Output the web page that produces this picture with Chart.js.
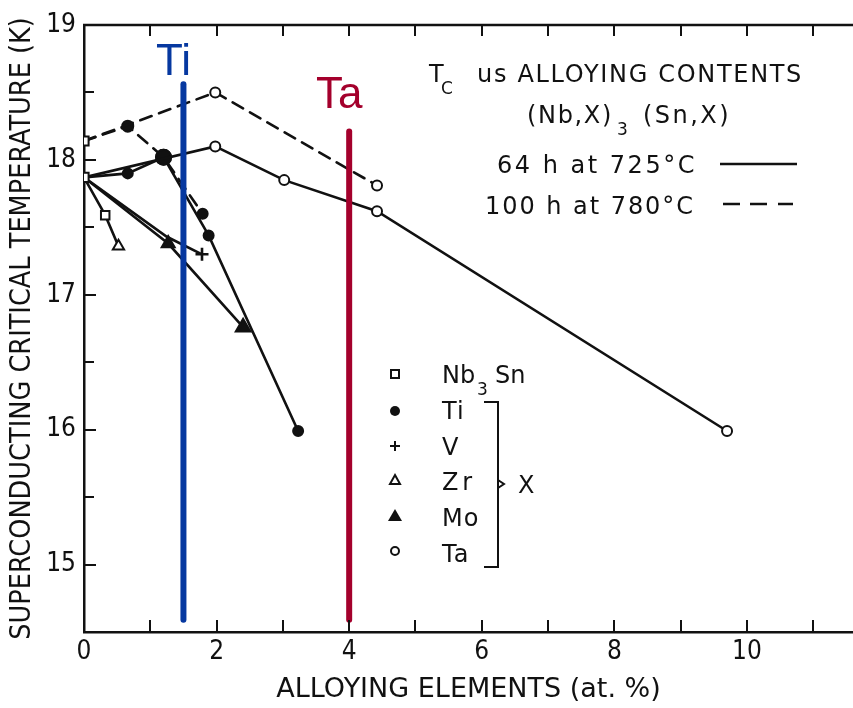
<!DOCTYPE html>
<html><head><meta charset="utf-8">
<script src="https://cdn.jsdelivr.net/npm/chart.js@4.4.1/dist/chart.umd.min.js"></script>
<style>html,body{margin:0;padding:0;background:#fff}#wrap{width:853px;height:708px}</style>
</head><body><div id="wrap"><canvas id="c" width="853" height="708"></canvas></div>
<script>
// ---- data ----
const xTicks = [0,1,2,3,4,5,6,7,8,9,10,11];
const xTickLabels = ['0','','2','','4','','6','','8','','10',''];
const yTicks = [15,16,17,18,19];
const yTickLabels = ['15','16','17','18','19'];
const yMinorTicks = [15.5,16.5,17.5,18.5];

const nb3snX = [0, 0];            const nb3snY = [17.87, 18.14];
const taSolidX = [0, 1.98, 3.02, 4.42, 9.7];  const taSolidY = [17.87, 18.10, 17.85, 17.62, 15.99];
const taDashX  = [0, 1.98, 4.42];             const taDashY  = [18.14, 18.50, 17.81];
const tiSolidX = [0, 0.66, 1.2, 1.88, 3.23];  const tiSolidY = [17.87, 17.90, 18.02, 17.44, 15.99];
const tiDashX  = [0, 0.66, 1.2, 1.79];        const tiDashY  = [18.14, 18.25, 18.02, 17.60];
const vX  = [0, 1.25, 1.78];   const vY  = [17.87, 17.43, 17.30];
const zrX = [0, 0.32, 0.52];   const zrY = [17.87, 17.59, 17.36];
const moX = [0, 1.27, 2.40];   const moY = [17.87, 17.38, 16.76];

const tiBarX = [1.5, 1.5];  const tiBarY = [14.59, 18.56];
const taBarX = [4, 4];      const taBarY = [14.59, 18.21];
const barLabels = ['Ti', 'Ta'];
const legendNames = ['Nb', 'Ti', 'V', 'Zr', 'Mo', 'Ta'];

// ---- build ----
const BLACK = '#111111', BLUE = '#0638a0', RED = '#a4002c';
const pts = (xs, ys) => xs.map((x, i) => ({x, y: ys[i]}));
const noFirst = r => (c => c.dataIndex === 0 ? 0 : (Array.isArray(r) ? r[c.dataIndex] : r));
const base = {showLine: true, borderColor: BLACK, borderWidth: 2.6, pointBorderColor: BLACK,
  pointBorderWidth: 2, fill: false, tension: 0};

const datasets = [
  Object.assign({}, base, {label:'Ti mark', data: pts(tiBarX, tiBarY), borderColor: BLUE, borderWidth: 6, pointRadius: 0}),
  Object.assign({}, base, {label:'Ta mark', data: pts(taBarX, taBarY), borderColor: RED, borderWidth: 6, pointRadius: 0}),
  Object.assign({}, base, {label:'Nb3Sn', data: pts(nb3snX, nb3snY), showLine: false, pointStyle:'rect', pointRadius: 6.5, pointBackgroundColor:'#fff'}),
  Object.assign({}, base, {label:'Ta 725', data: pts(taSolidX, taSolidY), pointStyle:'circle', pointRadius: noFirst(5), pointBackgroundColor:'#fff'}),
  Object.assign({}, base, {label:'Ta 780', data: pts(taDashX, taDashY), borderDash:[12,8], pointStyle:'circle', pointRadius: noFirst(5), pointBackgroundColor:'#fff'}),
  Object.assign({}, base, {label:'Ti 725', data: pts(tiSolidX, tiSolidY), pointStyle:'circle', pointRadius: noFirst([0,5,7.5,5,5]), pointBackgroundColor: BLACK}),
  Object.assign({}, base, {label:'Ti 780', data: pts(tiDashX, tiDashY), borderDash:[12,8], pointStyle:'circle', pointRadius: noFirst([0,5.5,7.5,5]), pointBackgroundColor: BLACK}),
  Object.assign({}, base, {label:'V', data: pts(vX, vY), pointStyle:'cross', pointRadius: noFirst([0,0,6.5]), pointBorderWidth: 2.6}),
  Object.assign({}, base, {label:'Zr', data: pts(zrX, zrY), pointStyle:['rect','rect','triangle'], pointRadius: noFirst([0,6,6.5]), pointBackgroundColor:'#fff'}),
  Object.assign({}, base, {label:'Mo', data: pts(moX, moY), pointStyle:'triangle', pointRadius: noFirst([0,7.5,8.5]), pointBackgroundColor: BLACK}),
];

function fitText(ctx, text, x, yb, w) {
  ctx.letterSpacing = '0px';
  const bw = ctx.measureText(text).width;
  const n = text.length;
  const ls = n > 1 ? (w - bw) / n : 0;
  ctx.letterSpacing = ls.toFixed(2) + 'px';
  ctx.textAlign = 'left';
  ctx.fillText(text, x, yb);
  ctx.letterSpacing = '0px';
}

const deco = {
  id: 'deco',
  afterDraw(chart) {
    const {ctx, chartArea: a} = chart;
    const x = chart.scales.x, y = chart.scales.y;
    ctx.save();
    ctx.strokeStyle = BLACK; ctx.lineWidth = 2.5;
    ctx.beginPath(); ctx.moveTo(a.left - 1, a.top); ctx.lineTo(a.right, a.top); ctx.stroke();
    ctx.lineWidth = 2;
    ctx.beginPath();
    xTicks.forEach(v => {
      if (v === 0) return;
      const px = Math.round(x.getPixelForValue(v));
      ctx.moveTo(px, a.bottom); ctx.lineTo(px, a.bottom - 12);
      ctx.moveTo(px, a.top); ctx.lineTo(px, a.top + 11);
    });
    yTicks.concat(yMinorTicks).forEach(v => {
      if (v <= y.min || v >= y.max) return;
      const py = Math.round(y.getPixelForValue(v));
      ctx.moveTo(a.left, py); ctx.lineTo(a.left + (Number.isInteger(v) ? 12 : 10), py);
    });
    ctx.stroke();

    ctx.font = '44px "Liberation Sans", Arial, sans-serif';
    ctx.textAlign = 'center'; ctx.textBaseline = 'alphabetic';
    ctx.fillStyle = BLUE;
    ctx.fillText(barLabels[0], x.getPixelForValue(tiBarX[0]) - 10, y.getPixelForValue(tiBarY[1]) - 9);
    ctx.fillStyle = RED;
    ctx.fillText(barLabels[1], x.getPixelForValue(taBarX[0]) - 10, y.getPixelForValue(taBarY[1]) - 24);

    const F = s => s + 'px "DejaVu Sans", sans-serif';
    ctx.fillStyle = BLACK;
    ctx.font = F(24);
    ctx.textAlign = 'left';
    ctx.fillText('T', 429, 82);
    ctx.font = F(17);
    ctx.fillText('C', 441, 94);
    ctx.font = F(24);
    fitText(ctx, 'us ALLOYING CONTENTS', 477, 82, 326);
    fitText(ctx, '(Nb,X)', 527, 123, 86);
    ctx.font = F(17);
    ctx.fillText('3', 617, 135);
    ctx.font = F(24);
    fitText(ctx, '(Sn,X)', 643, 123, 88);
    fitText(ctx, '64 h at 725°C', 497, 173, 200);
    fitText(ctx, '100 h at 780°C', 485, 214, 210);
    ctx.lineWidth = 2.5; ctx.strokeStyle = BLACK;
    ctx.beginPath(); ctx.moveTo(720, 164); ctx.lineTo(797, 164); ctx.stroke();
    ctx.beginPath();
    [[723,740],[750,767],[778,793]].forEach(s => { ctx.moveTo(s[0], 204); ctx.lineTo(s[1], 204); });
    ctx.stroke();

    const rowB = [383, 419, 455, 490, 526, 562];
    const mx = 395;
    ctx.lineWidth = 2;
    let cy = rowB[0] - 9;
    ctx.fillStyle = '#fff'; ctx.fillRect(mx - 4, cy - 4, 8, 8); ctx.strokeRect(mx - 4, cy - 4, 8, 8);
    cy = rowB[1] - 8; ctx.fillStyle = BLACK; ctx.beginPath(); ctx.arc(mx, cy, 5, 0, Math.PI * 2); ctx.fill();
    cy = rowB[2] - 9; ctx.beginPath(); ctx.moveTo(mx - 5, cy); ctx.lineTo(mx + 5, cy); ctx.moveTo(mx, cy - 5); ctx.lineTo(mx, cy + 5); ctx.stroke();
    cy = rowB[3] - 10; ctx.beginPath(); ctx.moveTo(mx, cy - 5); ctx.lineTo(mx + 5, cy + 4); ctx.lineTo(mx - 5, cy + 4); ctx.closePath(); ctx.fillStyle = '#fff'; ctx.fill(); ctx.stroke();
    cy = rowB[4] - 10; ctx.beginPath(); ctx.moveTo(mx, cy - 7); ctx.lineTo(mx + 7, cy + 5); ctx.lineTo(mx - 7, cy + 5); ctx.closePath(); ctx.fillStyle = BLACK; ctx.fill();
    cy = rowB[5] - 11; ctx.beginPath(); ctx.arc(mx, cy, 4, 0, Math.PI * 2); ctx.fillStyle = '#fff'; ctx.fill(); ctx.stroke();

    ctx.fillStyle = BLACK;
    ctx.font = F(24);
    ctx.fillText(legendNames[0], 442, rowB[0]);
    ctx.font = F(17);
    ctx.fillText('3', 477, rowB[0] + 12);
    ctx.font = F(24);
    ctx.fillText('Sn', 495, rowB[0]);
    for (let i = 1; i < legendNames.length; i++) fitText(ctx, legendNames[i], 442, rowB[i], i === 3 ? 34 : ctx.measureText(legendNames[i]).width + 2);

    ctx.lineWidth = 2;
    ctx.beginPath();
    ctx.moveTo(484, 402); ctx.lineTo(498, 402); ctx.lineTo(498, 567); ctx.lineTo(484, 567);
    ctx.moveTo(498, 480); ctx.lineTo(504, 484); ctx.lineTo(498, 488);
    ctx.stroke();
    ctx.font = F(24);
    ctx.fillText('X', 518, 493);
    ctx.restore();
  }
};

const axisFont = {family: '"DejaVu Sans Condensed", "DejaVu Sans", sans-serif', size: 26};

new Chart(document.getElementById('c'), {
  type: 'scatter',
  data: {datasets},
  options: {
    responsive: false, animation: false, devicePixelRatio: 1,
    layout: {autoPadding: false, padding: {top: 25, right: 0, left: 0, bottom: 0}},
    plugins: {legend: {display: false}, tooltip: {enabled: false}},
    elements: {line: {borderCapStyle: 'round'}},
    scales: {
      x: {
        type: 'linear', min: 0, max: 11.6,
        afterFit(s) { s.height = 76; s.paddingRight = 0; s.paddingLeft = 0; },
        afterBuildTicks(s) { s.ticks = xTicks.map(v => ({value: v})); },
        ticks: {callback: (v, i) => xTickLabels[i], color: BLACK, font: axisFont, padding: 5, maxRotation: 0, autoSkip: false},
        grid: {display: false, drawTicks: false},
        border: {display: true, color: BLACK, width: 2.5},
        title: {display: true, text: 'ALLOYING ELEMENTS (at. %)', color: BLACK,
          font: {family: '"DejaVu Sans", sans-serif', size: 27}, padding: {top: 0, bottom: 2}}
      },
      y: {
        type: 'linear', min: 14.5, max: 19,
        afterFit(s) { s.width = 84; },
        afterBuildTicks(s) { s.ticks = yTicks.map(v => ({value: v})); },
        ticks: {callback: (v, i) => yTickLabels[i], color: BLACK, font: axisFont, padding: 8, autoSkip: false},
        grid: {display: false, drawTicks: false},
        border: {display: true, color: BLACK, width: 2.5},
        title: {display: true, text: 'SUPERCONDUCTING CRITICAL TEMPERATURE (K)', color: BLACK,
          font: {family: '"DejaVu Sans Condensed", "DejaVu Sans", sans-serif', size: 28.5}, padding: {top: 5, bottom: 0}}
      }
    }
  },
  plugins: [deco]
});
</script>
</body></html>
